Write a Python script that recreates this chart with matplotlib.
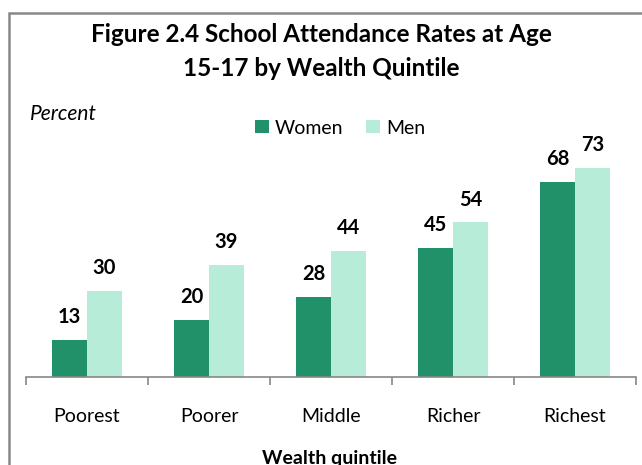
import matplotlib.pyplot as plt
import numpy as np
from matplotlib.patches import Rectangle

plt.rcParams['font.family'] = ['Lato', 'DejaVu Sans']

# Données
quintiles = ['Poorest', 'Poorer', 'Middle', 'Richer', 'Richest']
women = [13, 20, 28, 45, 68]
men = [30, 39, 44, 54, 73]

c_women = '#21916A'
c_men = '#B6ECD8'

fig = plt.figure(figsize=(6.42, 4.65), dpi=100)
ax = fig.add_axes([26/642, 1 - 377/465, 610/642, 229/465])

x = np.arange(len(quintiles))
w = 0.287
b1 = ax.bar(x - w/2, women, w, color=c_women, label='Women')
b2 = ax.bar(x + w/2, men, w, color=c_men, label='Men')

for bars, vals in [(b1, women), (b2, men)]:
    for r, v in zip(bars, vals):
        ax.text(r.get_x() + r.get_width()/2, v + 8, str(v), ha='center', va='center',
                fontsize=14.5, fontweight='bold', clip_on=False)

ax.set_xlim(-0.5, 4.5)
ax.set_ylim(0, 80)
ax.set_yticks([])
for s in ['top', 'right', 'left']:
    ax.spines[s].set_visible(False)
ax.spines['bottom'].set_color('#888888')
ax.spines['bottom'].set_linewidth(1.2)

ax.set_xticks(np.arange(-0.5, 5, 1))
ax.set_xticklabels([])
ax.set_xticks(x, minor=True)
ax.set_xticklabels(quintiles, minor=True, fontsize=14)
ax.tick_params(axis='x', which='major', length=6, color='#888888', width=1.2)
ax.tick_params(axis='x', which='minor', length=0, pad=22)

fig.text(0.5, 1 - 35/465, 'Figure 2.4 School Attendance Rates at Age', ha='center', va='center',
         fontsize=17.5, fontweight='bold')
fig.text(0.5, 1 - 68/465, '15-17 by Wealth Quintile', ha='center', va='center',
         fontsize=17.5, fontweight='bold')
fig.text(30/642, 1 - 114/465, 'Percent', ha='left', va='center', fontsize=15, fontstyle='italic')
fig.text(330/642, 1 - 458/465, 'Wealth quintile', ha='center', va='center', fontsize=14,
         fontweight='bold')

fig.legend(loc='center', bbox_to_anchor=(340/642, 1 - 128/465), ncol=2, frameon=False,
           fontsize=14, handlelength=0.7, handleheight=0.7, handletextpad=0.3, columnspacing=1.2)

fig.patches.append(Rectangle((9/642, -0.1), 1.0, 1 - 13/465 + 0.1, transform=fig.transFigure,
                             fill=False, edgecolor='#888888', linewidth=1.8))

fig.savefig('out.png', dpi=100)
